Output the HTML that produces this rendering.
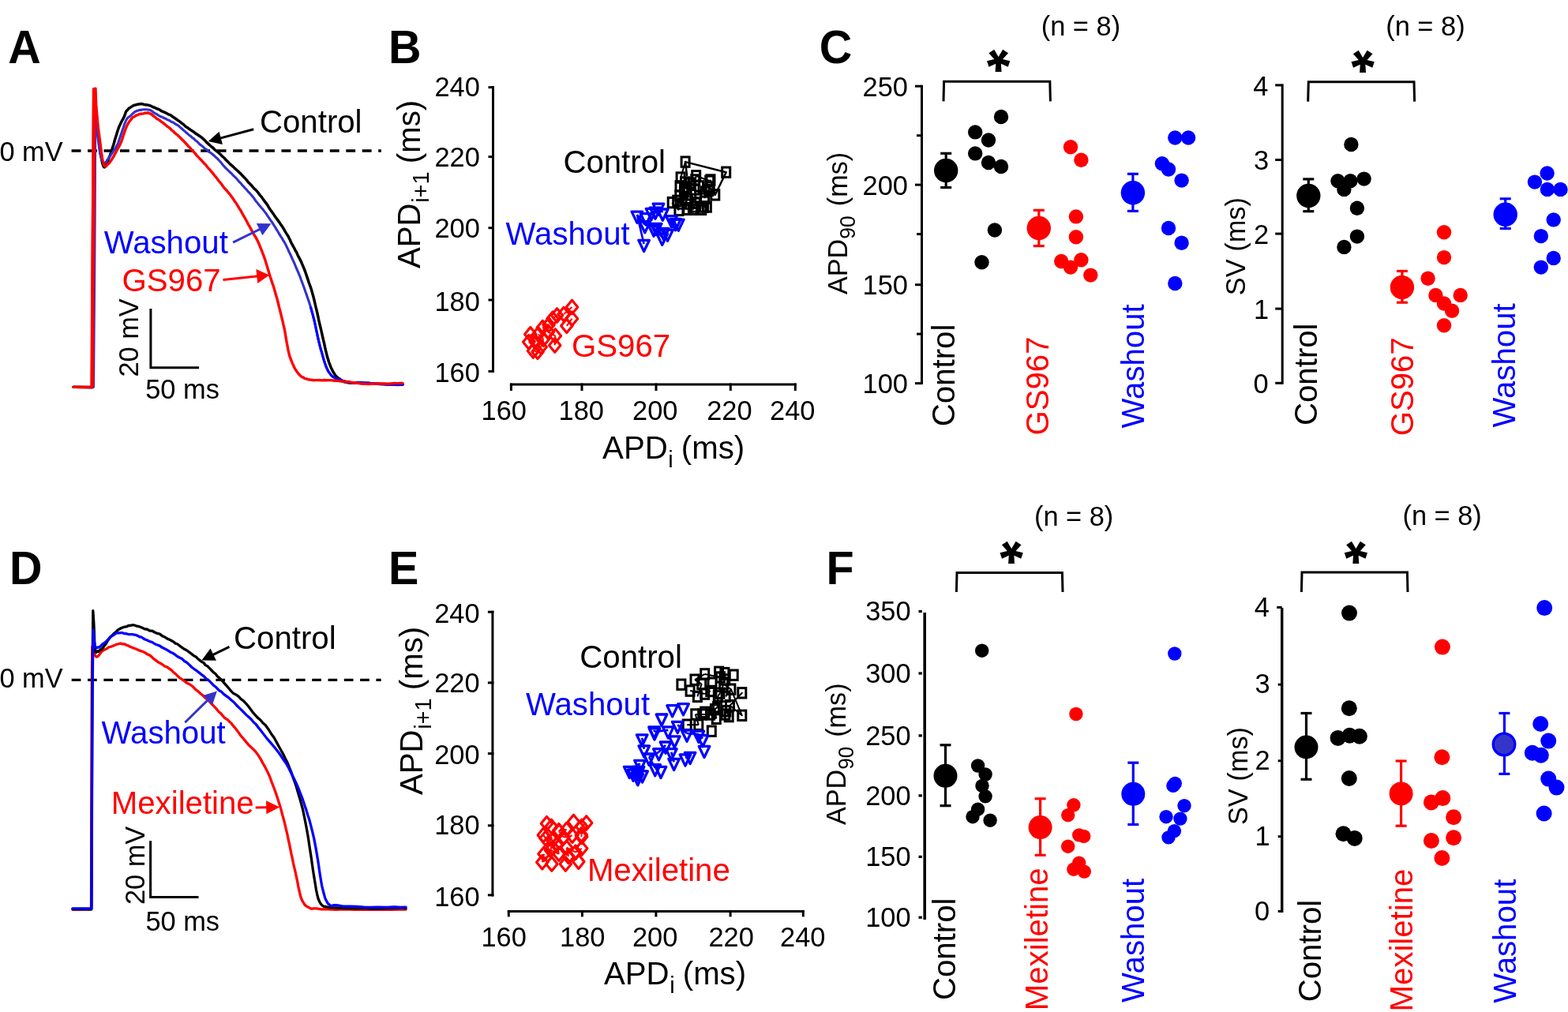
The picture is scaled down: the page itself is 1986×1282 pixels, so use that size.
<!DOCTYPE html>
<html><head><meta charset="utf-8"><title>Figure</title>
<style>
html,body{margin:0;padding:0;background:#fff;overflow:hidden;}
svg{display:block;}
text{font-family:"Liberation Sans", Arial, Helvetica, sans-serif;}
</style></head>
<body>
<svg width="1986" height="1282" viewBox="0 0 1986 1282">
<rect width="1986" height="1282" fill="#fff"/>
<text transform="translate(10.18 79.8) scale(1 1.03)" font-size="57.5" font-weight="bold">A</text>
<text transform="translate(491.88 80.2) scale(1 1.03)" font-size="57.5" font-weight="bold">B</text>
<text transform="translate(1037.7 80) scale(1 1.03)" font-size="57.5" font-weight="bold">C</text>
<text transform="translate(11.88 739.9) scale(1 1.03)" font-size="57.5" font-weight="bold">D</text>
<text transform="translate(491.88 740.2) scale(1 1.03)" font-size="57.5" font-weight="bold">E</text>
<text transform="translate(1046.57 739.7) scale(1 1.03)" font-size="57.5" font-weight="bold">F</text>
<g>
<text transform="translate(-0.58 203.8) scale(1 1.03)" font-size="34.4">0 mV</text>
<line x1="90.6" y1="191.05" x2="482.9" y2="191.05" stroke="#000" stroke-width="3.4" stroke-dasharray="11.9 8.55"/>
<polyline points="93,490.28 117,490.71 117.21,464.66 117.52,427.61 117.86,384.95 118.21,340.77 118.5,300.09 118.75,259.86 118.98,216.48 119.2,175.13 119.37,140.27 119.5,114.96 121,130.16 121.4,134.54 121.96,141.69 122.62,149.81 123.32,157.6 124,165.27 124.66,171.78 125.34,177.73 126.05,183.93 126.77,189.97 127.5,195.26 128.25,199.44 129.02,203.46 129.81,207.09 130.6,209.54 131.4,211.33 132.19,211.89 132.98,211.23 133.78,209.61 134.61,207.75 135.5,205.83 136.46,203.95 137.47,201.49 138.52,198.7 139.57,196.39 140.6,193.33 141.6,190.35 142.6,186.85 143.6,183.98 144.6,180.53 145.6,176.77 146.6,173.59 147.58,170.45 148.58,167.11 149.61,164.04 150.7,160.75 151.9,158.25 153.2,155.57 154.51,152.93 155.74,150.84 156.8,148.93 157.61,147 158.24,145.07 158.8,143.56 159.41,141.78 160.2,140.55 161.2,139.62 162.32,138.26 163.52,137.08 164.76,136.38 166,135.62 167.22,134.84 168.46,133.99 169.72,133.45 171.03,133.01 172.4,132.77 173.81,132.29 175.27,131.98 176.77,131.89 178.35,131.56 180,131.63 181.77,132.19 183.64,132.63 185.56,132.77 187.5,133.11 189.4,133.5 191.26,134.32 193.12,135.32 194.98,135.98 196.84,136.67 198.7,137.72 200.58,138.22 202.46,139.33 204.34,140.56 206.22,141.3 208.1,142.18 209.96,142.96 211.82,143.98 213.68,145.1 215.54,145.46 217.4,146.97 219.27,148.17 221.15,149.48 223.04,150.74 224.92,152.18 226.8,153.41 228.68,154.9 230.56,156.34 232.45,157.66 234.33,159.67 236.2,160.94 238.06,162.08 239.92,163.57 241.78,164.83 243.64,166.02 245.5,167.31 247.38,168.71 249.26,170.02 251.14,171.29 253.02,172.54 254.9,173.72 256.76,175.4 258.62,177.04 260.48,179 262.34,180.91 264.2,182.58 266.07,184.26 267.95,185.95 269.84,187.29 271.72,189.32 273.6,190.9 275.52,192.26 277.48,193.96 279.41,195.69 281.27,197.83 283,199.15 284.52,200.58 285.86,202.33 287.14,203.57 288.48,204.83 290,206.4 291.73,208.21 293.59,209.64 295.53,211.39 297.49,213.37 299.4,214.97 301.26,216.68 303.12,218.59 304.98,220.18 306.84,222.29 308.7,224.25 310.58,226.11 312.46,228.11 314.34,230.67 316.22,232.53 318.1,234.43 319.96,236.69 321.82,238.82 323.68,240.36 325.54,242.43 327.4,244.69 329.27,247.32 331.15,249.35 333.04,252.12 334.92,254.62 336.8,257.13 338.68,259.63 340.56,262.9 342.45,265.66 344.33,268.34 346.2,270.93 348.06,273.84 349.92,276.25 351.78,278.91 353.64,281.37 355.5,284.28 357.44,286.88 359.45,290.14 361.43,293.69 363.28,296.66 364.9,299.08 366.2,301.82 367.25,303.64 368.18,306.04 369.12,307.96 370.2,309.95 371.42,312.14 372.7,314.31 374.03,317.21 375.4,319.22 376.8,322.39 378.27,325.42 379.83,328.34 381.39,331.37 382.91,335.08 384.3,338.38 385.54,341.39 386.68,344.42 387.75,347.5 388.81,350.67 389.9,353.82 391.03,357.37 392.18,360.52 393.32,363.71 394.44,367.06 395.5,370.9 396.5,374.28 397.45,378.1 398.37,381.76 399.28,385.93 400.2,389.84 401.12,393.28 402.03,397.43 402.94,401.61 403.86,406.14 404.8,410.17 405.76,414.08 406.74,418.22 407.73,422.74 408.72,427.08 409.7,431.36 410.68,435.32 411.66,440.07 412.64,444.31 413.62,448.33 414.6,452.39 415.56,455.26 416.49,458.54 417.44,460.9 418.43,463.52 419.5,466.45 420.69,468.47 421.99,471.15 423.31,473.24 424.61,475.31 425.8,476.62 426.86,477.75 427.84,478.46 428.78,479.33 429.72,479.66 430.7,480.47 431.6,481.22 432.37,481.61 433.23,482.7 434.38,483.18 436,483.72 438.15,484.12 440.69,484.82 443.55,484.91 446.68,485.04 450,484.9 453.62,485.28 457.57,485.59 461.71,485.56 465.9,485.87 470,485.83 474,485.88 478,486.1 482,486.56 486,486.45 490,486.76 494.32,486.58 498.96,486.59 503.44,487.01 507.28,487.13 510,486.71" fill="none" stroke="#000" stroke-width="3.5" stroke-linejoin="round" stroke-linecap="round"/>
<polyline points="93,490.27 118.5,490.27 118.72,463.57 119.03,426.47 119.38,383.88 119.72,339.9 120,300.1 120.22,261.88 120.41,222.46 120.57,184.86 120.7,152.85 120.8,129.8 121,134.04 121.27,139.78 121.61,146.69 122.02,153.82 122.5,160.27 123.09,166.31 123.79,172.83 124.55,179.16 125.3,184.87 126,189.72 126.63,193.65 127.22,196.35 127.8,198.53 128.38,200.6 129,202.02 129.64,203.58 130.27,204.66 130.93,205.49 131.64,206.26 132.4,206.28 133.23,206.09 134.11,205.44 135.03,203.96 136,202.23 137,201.24 138.05,199.77 139.14,198.21 140.28,196.7 141.43,194.92 142.6,193.17 143.8,191.14 145.04,189.71 146.29,187.8 147.52,185.24 148.7,183.25 149.8,180.56 150.84,177.47 151.87,174.39 152.91,171.17 154,168.25 155.15,164.65 156.34,161.27 157.54,157.44 158.77,154.54 160,151.94 161.25,149.81 162.53,148.58 163.81,147.83 165.07,146.88 166.3,145.79 167.44,144.56 168.51,143.57 169.58,142.79 170.72,141.57 172,141.24 173.43,140.23 174.97,140.09 176.59,139.31 178.27,139.38 180,139.02 181.79,138.75 183.66,138.68 185.58,138.8 187.5,138.98 189.4,139.29 191.26,140.03 193.12,141.32 194.98,142.84 196.84,143.93 198.7,144.75 200.58,146.19 202.46,147.09 204.34,148.11 206.22,148.6 208.1,149.85 209.96,150.34 211.82,151.59 213.68,152.25 215.54,153.15 217.4,154.53 219.27,155.09 221.15,156.38 223.04,157.69 224.92,158.52 226.8,159.83 228.68,161.75 230.56,163.16 232.45,165.11 234.33,166.45 236.2,168.32 238.06,169.75 239.92,171.53 241.78,172.63 243.64,174.63 245.5,175.62 247.38,177.67 249.26,178.95 251.14,180.82 253.02,182.85 254.9,184.09 256.76,185.67 258.62,187.48 260.48,188.77 262.34,190.04 264.2,192.09 266.07,193.05 267.95,194.39 269.84,196 271.72,197.69 273.6,199.45 275.52,201 277.48,203.27 279.41,205.29 281.27,207.66 283,209.76 284.52,211.35 285.86,212.84 287.14,214.06 288.48,215.49 290,216.92 291.73,218.51 293.59,220.19 295.53,222.37 297.49,224.12 299.4,225.96 301.26,228.17 303.12,230.48 304.98,232.11 306.84,234.48 308.7,236.44 310.58,238.54 312.46,240.32 314.34,242.82 316.22,244.47 318.1,246.86 319.96,249.09 321.82,251.3 323.68,254.14 325.54,256.38 327.4,258.73 329.27,260.98 331.15,263.21 333.04,265.32 334.92,267.88 336.8,270.2 338.68,273.09 340.56,275.81 342.45,278.69 344.33,281.13 346.2,284.17 348.11,287.05 350.07,290.38 352,293.53 353.83,296.63 355.5,299.33 356.95,301.43 358.22,303.62 359.4,305.67 360.57,307.41 361.8,309.72 363.07,312.46 364.33,314.91 365.62,318.04 366.96,320.69 368.4,323.76 370.01,327.34 371.76,331.24 373.56,335.23 375.27,339.28 376.8,342.78 378.1,345.76 379.24,348.74 380.29,351.12 381.32,354.2 382.4,357.08 383.52,359.98 384.64,362.94 385.76,366.18 386.88,369.47 388,372.43 389.13,375.95 390.28,379.36 391.42,382.54 392.54,385.91 393.6,389.78 394.59,392.91 395.53,396.34 396.43,400 397.35,403.42 398.3,407.17 399.3,412.05 400.32,416.57 401.36,421.4 402.39,426.71 403.4,430.86 404.39,435.03 405.37,439.12 406.35,442.59 407.32,445.63 408.3,449.27 409.27,452.61 410.23,455.96 411.19,458.96 412.18,462.16 413.2,464.54 414.25,467.07 415.32,469.29 416.43,471.57 417.58,472.79 418.8,474.75 419.97,475.71 421.09,476.96 422.32,477.71 423.83,478.58 425.8,479.65 428.38,480.49 431.46,481.46 434.8,482.56 438.16,483.48 441.3,484.61 444.18,484.8 446.97,485.02 449.72,484.74 452.48,484.21 455.3,484.6 458.11,484.8 460.88,484.95 463.7,485.02 466.71,485.17 470,485.47 473.66,485.96 477.62,485.97 481.75,486.46 485.92,486.74 490,487.27 494.32,487.35 498.96,487.56 503.44,487.59 507.28,487.33 510,487.34" fill="none" stroke="#3232cd" stroke-width="3.1" stroke-linejoin="round" stroke-linecap="round"/>
<polyline points="393.6,389.49 394.23,391.7 395.12,395.2 396.17,398.67 397.26,403.11 398.3,407.22 399.3,411.49 400.32,416.65 401.36,421.41 402.39,426.56 403.4,430.84 404.39,434.9 405.37,438.87 406.35,442.68 407.32,445.7 408.3,449.13 409.27,452.74 410.23,456.24 411.19,459.19 412.18,462.05 413.2,465.09 414.25,466.93 415.32,469.58 416.43,471.18 417.58,472.83 418.8,474.37 419.97,475.78 421.09,477.1 422.32,477.58 423.83,478.65 425.8,479.58 428.38,480.48 431.46,481.72 434.8,482.52 438.16,483.46 441.3,484.22 444.18,484.82 446.97,484.7 449.72,484.51 452.48,484.55 455.3,484.47 458.11,484.51 460.88,484.99 463.7,485.14 466.71,485.1 470,485.54 473.66,485.8 477.62,486.34 481.75,486.59 485.92,486.63 490,487.29 494.32,486.94 498.96,487.25 503.44,487.54 507.28,487.24 510,487.49" fill="none" stroke="#0000ff" stroke-width="3.1" stroke-linejoin="round" stroke-linecap="round"/>
<polyline points="93,490.34 116.5,490.53 116.64,464.46 116.83,427.91 117.05,385.17 117.28,340.66 117.5,299.71 117.72,259.59 117.95,215.83 118.17,174.01 118.36,138.67 118.5,112.98 121,112.2 121.8,135.49 122.14,139.1 122.62,143.83 123.17,149.91 123.75,155.88 124.3,160.81 124.82,165.36 125.34,169.48 125.86,173.1 126.38,177.4 126.9,181.15 127.4,184.89 127.88,188.65 128.37,192.95 128.87,196.25 129.4,199.53 129.95,202.43 130.51,204.9 131.1,207.25 131.72,208.71 132.4,210.18 133.12,210.55 133.86,210.85 134.66,210.38 135.53,209.17 136.5,208.28 137.59,207.18 138.8,206.16 140.06,204.14 141.35,202.4 142.6,200.28 143.84,198.35 145.09,196.02 146.34,193.66 147.55,191.47 148.7,189.25 149.75,187.48 150.72,185.58 151.66,183.93 152.63,181.84 153.7,179.39 154.88,175.93 156.13,171.77 157.42,168.13 158.72,164.34 160,161.04 161.27,158.22 162.55,156.06 163.82,153.82 165.08,152.5 166.3,150.84 167.44,149.42 168.51,148.32 169.58,148.03 170.72,147.45 172,146.25 173.43,146.03 174.97,145.22 176.59,144.55 178.27,144.21 180,144.16 181.79,143.9 183.66,143.08 185.58,143.23 187.5,142.93 189.4,143.73 191.26,144.35 193.12,145.91 194.98,147.42 196.84,148.66 198.7,150.4 200.58,151.35 202.46,152.59 204.34,154.3 206.22,155.38 208.1,156.92 209.96,158.5 211.82,160.09 213.68,161.3 215.54,162.76 217.4,164.82 219.27,166.09 221.15,168.12 223.04,169.76 224.92,171.17 226.8,172.98 228.68,174.81 230.56,176.73 232.45,178.58 234.33,180.48 236.2,182.47 238.06,184.67 239.92,186.46 241.78,188.5 243.64,190.76 245.5,192.54 247.38,194.64 249.26,197.11 251.14,198.89 253.02,200.97 254.9,202.71 256.76,204.99 258.62,207.12 260.48,208.83 262.34,211.25 264.2,213.38 266.07,215.2 267.95,217.74 269.84,219.88 271.72,222.29 273.6,224.41 275.52,227.06 277.48,229.64 279.41,231.77 281.27,234.24 283,236.81 284.52,238.8 285.86,239.88 287.14,241.43 288.48,243.07 290,244.79 291.73,247.08 293.59,249.55 295.53,252.27 297.49,255.2 299.4,257.88 301.26,260.86 303.12,264.15 304.98,266.84 306.84,270.38 308.7,273.74 310.58,276.83 312.46,280.22 314.34,284.05 316.22,287.2 318.1,290.61 319.98,294.08 321.88,297.46 323.76,300.35 325.61,303.86 327.4,307.5 329.15,311.78 330.88,315.81 332.56,320.44 334.14,324.37 335.6,328.6 336.9,332.76 338.07,336.8 339.15,340.34 340.18,343.83 341.2,347.17 342.2,350.5 343.14,353.1 344.06,356.14 344.97,358.84 345.9,361.31 346.84,364.39 347.78,367.78 348.72,370.84 349.66,374.2 350.6,377.31 351.54,380.72 352.48,384.51 353.42,388.59 354.36,392.11 355.3,396.01 356.25,399.88 357.21,403.74 358.17,407.63 359.1,411.93 360,415.59 360.86,419.95 361.71,425.26 362.52,429.98 363.29,434.51 364,438.06 364.61,441.53 365.13,444.16 365.63,446.05 366.16,448.57 366.8,450.9 367.57,453.2 368.42,455.5 369.32,457.68 370.22,459.9 371.1,461.84 371.91,463.52 372.69,465.43 373.47,466.72 374.33,468.45 375.3,469.43 376.41,471.44 377.64,472.83 378.93,474.44 380.26,475.77 381.6,476.94 382.9,477.7 384.18,478.16 385.51,479.27 386.96,479.49 388.6,480.08 390.42,480.73 392.38,480.99 394.47,481.19 396.71,481.71 399.1,481.67 401.69,481.58 404.49,481.52 407.39,481.83 410.33,481.56 413.2,481.77 416,481.6 418.8,481.61 421.6,481.96 424.4,482.29 427.2,482.1 430.02,482.7 432.84,483.03 435.66,483.24 438.48,483.56 441.3,483.4 444.1,484.17 446.87,484.77 449.65,484.76 452.46,485.32 455.3,485.66 458.11,486.07 460.88,486.19 463.7,486.36 466.71,486.63 470,486.2 473.66,486.21 477.62,486.16 481.75,486.03 485.92,485.86 490,486.28 494.32,486.1 498.96,485.53 503.44,485.67 507.28,485.46 510,485.39" fill="none" stroke="#ff0000" stroke-width="3.4" stroke-linejoin="round" stroke-linecap="round"/>
<polyline points="116.6,490 117.9,300 119.4,111.7" fill="none" stroke="#ff0000" stroke-width="4.6"/>
<text transform="translate(328.99 167.8) scale(1 1.03)" font-size="40.2">Control</text>
<line x1="321.2" y1="163.7" x2="277.8" y2="175.34" stroke="#000" stroke-width="3"/>
<polygon points="263.8,179.1 277.56,166.71 281.91,182.94" fill="#000"/>
<text transform="translate(131.7 321.2) scale(1 1.03)" font-size="40.2" fill="#0000ff">Washout</text>
<line x1="295.1" y1="307.2" x2="330.4" y2="289.73" stroke="#3232cd" stroke-width="3"/>
<polygon points="343.4,283.3 332.34,298.15 324.89,283.09" fill="#3232cd"/>
<text transform="translate(154.49 368.8) scale(1 1.03)" font-size="40.2" fill="#ff0000">GS967</text>
<line x1="282.5" y1="354.5" x2="327.27" y2="349.85" stroke="#ff0000" stroke-width="3"/>
<polygon points="341.2,348.4 326.22,359.01 324.36,341.1" fill="#ff0000"/>
<polyline points="190.9,391 190.9,465.7 252.1,465.7" fill="none" stroke="#000" stroke-width="3"/>
<text transform="translate(175.1 477.62) rotate(-90) scale(1 1.03)" font-size="34.4">20 mV</text>
<text transform="translate(184.22 504.6) scale(1 1.03)" font-size="34.4">50 ms</text>
</g>
<g>
<text transform="translate(-0.58 870.8) scale(1 1.03)" font-size="34.4">0 mV</text>
<line x1="90.7" y1="861.4" x2="482.7" y2="861.4" stroke="#000" stroke-width="3.4" stroke-dasharray="11.7 8.6"/>
<polyline points="92,1152.24 115.5,1152.1 115.6,1115.31 115.73,1061.09 115.89,1000.32 116.06,943.45 116.2,900.42 116.34,871.87 116.48,851.74 116.61,837.25 116.72,827.56 116.8,819.08 117.45,821 118.34,823.98 119.43,827.38 120.66,830.83 122,832.13 123.49,831.8 125.16,830.29 126.94,827.56 128.77,825.5 130.6,824.13 132.38,823.08 134.16,822.21 135.99,821.35 137.92,819.73 140,819.41 142.36,818.55 144.96,817.42 147.63,816.2 150.17,815.79 152.4,814.99 154.18,815.74 155.63,815.83 156.96,815.87 158.41,816.15 160.2,817.41 162.38,817.9 164.79,819.23 167.37,820.35 170.03,821.22 172.7,822.31 175.43,823.64 178.26,824.6 181.14,825.51 183.97,826.95 186.7,828.91 189.25,829.82 191.66,831.68 194.05,834.21 196.53,835.85 199.2,838.03 202.17,839.83 205.37,841.53 208.63,844.03 211.83,845.12 214.8,847.31 217.45,849.19 219.87,851.78 222.23,853.64 224.65,855.95 227.3,858.55 230.3,860.32 233.54,862.79 236.85,865.35 240.03,866.72 242.9,868.76 245.31,870.83 247.37,873.11 249.33,874.7 251.39,876.19 253.8,878.43 256.67,880.78 259.85,883.83 263.16,886.32 266.4,889.92 269.4,893 272.12,895.93 274.7,898.66 277.16,901.79 279.55,903.61 281.9,906.39 284.11,909.07 286.15,910.44 288.18,911.59 290.34,913.94 292.8,916.12 295.57,919.68 298.57,923.12 301.73,927.33 305.03,932 308.4,935.94 311.96,940.16 315.73,944.62 319.56,947.92 323.31,951.76 326.8,956.34 330.03,961.37 333.08,967.14 336.01,972.17 338.84,977.86 341.6,983.8 344.33,991.37 347,998.04 349.57,1005.29 351.98,1012.53 354.2,1019.56 356.18,1026.29 357.96,1033.22 359.59,1038.97 361.12,1045.03 362.6,1051.59 363.99,1057.37 365.27,1064.01 366.47,1068.96 367.67,1075.18 368.9,1081.27 370.18,1086.84 371.46,1093.38 372.74,1098.82 374.02,1104.47 375.3,1110.41 376.53,1115.91 377.73,1122.3 378.93,1127.93 380.21,1133.86 381.6,1138.23 383.01,1141.37 384.41,1143.63 385.93,1145.99 387.75,1147.7 390,1149.11 392.24,1150.18 394.37,1151.36 397.06,1150.87 400.98,1150.88 406.8,1151.93 415.1,1151.77 425.42,1152.31 436.92,1151.78 448.73,1152.33 460,1152.15 471.61,1152.4 484.13,1152.47 496.25,1152.33 506.64,1152.02 514,1152.21" fill="none" stroke="#ff0000" stroke-width="3.3" stroke-linejoin="round" stroke-linecap="round"/>
<polyline points="92,1151.62 115.8,1151.74 115.94,1115.58 116.13,1063.43 116.35,1003.88 116.58,946.71 116.8,899.53 117.02,864.72 117.25,834.96 117.47,809.45 117.66,789.53 117.8,773.61 117.94,776.08 118.14,778.72 118.38,782.53 118.64,786.66 118.9,790.71 119.15,796.71 119.39,803.8 119.67,811.69 119.99,818 120.4,822.06 120.85,825.25 121.33,825.71 121.9,826.35 122.6,825.51 123.5,825 124.63,825.45 125.94,824 127.4,822.88 128.97,822.21 130.6,820.37 132.33,817.57 134.2,815.52 136.14,812.16 138.09,809.45 140,806.5 141.87,805.15 143.73,802.99 145.58,801.55 147.44,799.94 149.3,798 151.13,796.95 152.94,795.89 154.76,795.16 156.63,794.47 158.6,794.1 160.64,793.73 162.73,792.43 164.9,792.52 167.18,791.82 169.6,791.81 172.18,792.8 174.91,793.32 177.74,794.25 180.65,795.58 183.6,796.9 186.62,797.24 189.72,799.13 192.88,799.2 196.05,801.05 199.2,802.44 202.37,803.16 205.59,805.67 208.78,807.09 211.88,809.11 214.8,810.21 217.45,811.69 219.87,813.11 222.23,815.15 224.65,815.77 227.3,817.96 230.27,820.08 233.47,822.29 236.73,824.01 239.93,826.31 242.9,828.62 245.6,830.83 248.13,832 250.56,834.45 252.96,836.35 255.4,838.36 257.88,839.6 260.36,842.62 262.84,843.94 265.32,846.43 267.8,849.01 270.29,851.69 272.79,853.55 275.3,856.64 277.8,858.82 280.3,861.21 282.75,863.94 285.15,866.64 287.58,869.41 290.1,872.32 292.8,875.59 295.72,878.39 298.82,879.87 302.01,882.07 305.23,885.51 308.4,887.93 311.52,891.18 314.64,894.77 317.77,899.07 320.89,903.22 324,906.56 327.05,909.74 330.04,912.23 333.06,916 336.18,918.49 339.5,923.19 343.16,928.92 347.12,934.45 351.13,941.76 354.97,948.74 358.4,954.83 361.36,960.95 363.99,966.05 366.41,972.13 368.71,977.71 371,984.54 373.32,990.53 375.59,997.53 377.77,1005.02 379.79,1011.71 381.6,1018.38 383.15,1023.99 384.48,1029.89 385.67,1035.89 386.78,1041.42 387.9,1047.19 389.01,1053.41 390.05,1059.3 391.07,1065.77 392.07,1072.78 393.1,1079.36 394.14,1086.05 395.16,1093.32 396.2,1100.62 397.27,1107.6 398.4,1114.47 399.49,1121.3 400.54,1127.55 401.67,1132.78 403.01,1138.24 404.7,1142.27 406.35,1145.05 407.88,1146.86 409.86,1148.11 412.84,1148.51 417.4,1149.6 423.82,1149.82 431.74,1150.33 440.7,1150.71 450.27,1150.64 460,1150.29 470.93,1151.02 483.37,1150.73 495.74,1150.63 506.47,1150.03 514,1150.55" fill="none" stroke="#000" stroke-width="3.3" stroke-linejoin="round" stroke-linecap="round"/>
<polyline points="92,1150.79 116,1150.82 116.13,1114.05 116.32,1061 116.54,1001.08 116.78,944.81 117,899.97 117.23,868.63 117.49,843.26 117.73,824.22 117.95,808.76 118.1,797.7 118.36,800.82 118.7,805.21 119.14,810.55 119.7,815.42 120.4,818.19 121.26,820.13 122.26,820.93 123.38,820.23 124.6,820.22 125.9,819.49 127.21,818.91 128.56,817.35 130.02,815.79 131.71,814.97 133.7,813.3 136.13,810.87 138.93,808 141.91,805.54 144.9,803.74 147.7,801.89 150.3,801.95 152.81,801.63 155.27,801.66 157.72,802.66 160.2,802.76 162.73,803.54 165.28,803.71 167.82,803.56 170.3,804.07 172.7,804.7 174.91,805.62 176.95,806.79 178.98,806.97 181.14,808.52 183.6,810 186.42,810.98 189.5,812.6 192.73,813.5 196,815.75 199.2,816.93 202.32,818.12 205.44,820.35 208.56,821.74 211.68,823.4 214.8,825.48 217.92,826.92 221.04,828.76 224.16,831.24 227.28,833.01 230.4,834.41 233.52,837.48 236.64,839.2 239.76,842.09 242.88,845.26 246,847.52 249.12,849.67 252.24,852.16 255.36,854.61 258.48,856.84 261.6,860.3 264.72,862.09 267.84,865.32 270.96,868.54 274.08,871.05 277.2,874.38 280.32,876.2 283.44,879.35 286.56,881.65 289.68,883.9 292.8,886.79 295.92,889.27 299.04,892.75 302.16,895.91 305.28,898.85 308.4,901.97 311.62,905.38 314.95,908.33 318.22,911.21 321.29,914.96 324,917.37 325.99,919.89 327.37,921.97 328.68,923.18 330.44,925.45 333.2,929.12 337.35,934.63 342.53,940.55 348.15,947.21 353.64,954.33 358.4,961.43 362.38,967.03 365.96,973.44 369.25,980.18 372.33,986.26 375.3,992.37 378.16,999.25 380.85,1006.11 383.37,1012.66 385.72,1019.67 387.9,1026.11 389.88,1032.71 391.66,1038.02 393.29,1044.06 394.82,1050.17 396.3,1056.22 397.71,1062.15 399.02,1069.09 400.25,1075.65 401.44,1082.6 402.6,1089.49 403.69,1096.72 404.7,1103.98 405.68,1110.36 406.73,1116.69 407.9,1123.05 409.15,1127.97 410.42,1132.83 411.8,1137.93 413.36,1140.94 415.2,1144.42 416.92,1145.86 418.48,1147.24 420.44,1147.38 423.39,1146.62 427.9,1146.99 434.41,1148.2 442.53,1148.25 451.61,1148.4 460.99,1149.04 470,1149.31 479.38,1149.18 489.58,1149.28 499.48,1148.99 507.99,1149.31 514,1149.14" fill="none" stroke="#0000ff" stroke-width="3.3" stroke-linejoin="round" stroke-linecap="round"/>
<text transform="translate(296.09 822) scale(1 1.03)" font-size="40.2">Control</text>
<line x1="290.5" y1="819.3" x2="268.44" y2="830.05" stroke="#000" stroke-width="3"/>
<polygon points="255.4,836.4 266.55,821.62 273.91,836.73" fill="#000"/>
<text transform="translate(128.6 941.6) scale(1 1.03)" font-size="40.2" fill="#0000ff">Washout</text>
<line x1="234.3" y1="915.2" x2="264.55" y2="885.55" stroke="#3333cc" stroke-width="3"/>
<polygon points="274.9,875.4 269,892.95 257.24,880.95" fill="#3333cc"/>
<text transform="translate(140.78 1030.8) scale(1 1.03)" font-size="40.2" fill="#ff0000">Mexiletine</text>
<line x1="323.7" y1="1023" x2="339.2" y2="1022.75" stroke="#ff0000" stroke-width="3"/>
<polygon points="354.2,1022.5 337.34,1031.28 337.06,1014.28" fill="#ff0000"/>
<polyline points="190.6,1065.3 190.6,1136.5 251.5,1136.5" fill="none" stroke="#000" stroke-width="3"/>
<text transform="translate(182.5 1146.12) rotate(-90) scale(1 1.03)" font-size="34.4">20 mV</text>
<text transform="translate(184.42 1178.9) scale(1 1.03)" font-size="34.4">50 ms</text>
</g>
<g>
<line x1="624.5" y1="109.1" x2="624.5" y2="471.9" stroke="#000" stroke-width="3"/>
<line x1="618.5" y1="110.6" x2="626" y2="110.6" stroke="#000" stroke-width="3"/>
<line x1="618.5" y1="198.6" x2="626" y2="198.6" stroke="#000" stroke-width="3"/>
<line x1="618.5" y1="288.7" x2="626" y2="288.7" stroke="#000" stroke-width="3"/>
<line x1="618.5" y1="380" x2="626" y2="380" stroke="#000" stroke-width="3"/>
<line x1="618.5" y1="470.4" x2="626" y2="470.4" stroke="#000" stroke-width="3"/>
<text transform="translate(550.43 122) scale(1 1.03)" font-size="34.4">240</text>
<text transform="translate(550.43 211.4) scale(1 1.03)" font-size="34.4">220</text>
<text transform="translate(550.43 300.6) scale(1 1.03)" font-size="34.4">200</text>
<text transform="translate(550.43 394.2) scale(1 1.03)" font-size="34.4">180</text>
<text transform="translate(550.43 483.6) scale(1 1.03)" font-size="34.4">160</text>
<line x1="645.9" y1="487.1" x2="1008.8" y2="487.1" stroke="#000" stroke-width="3"/>
<line x1="647.4" y1="485.6" x2="647.4" y2="495.1" stroke="#000" stroke-width="3"/>
<line x1="737" y1="485.6" x2="737" y2="495.1" stroke="#000" stroke-width="3"/>
<line x1="831" y1="485.6" x2="831" y2="495.1" stroke="#000" stroke-width="3"/>
<line x1="925.3" y1="485.6" x2="925.3" y2="495.1" stroke="#000" stroke-width="3"/>
<line x1="1007.3" y1="485.6" x2="1007.3" y2="495.1" stroke="#000" stroke-width="3"/>
<text transform="translate(609.59 532) scale(1 1.03)" font-size="34.4">160</text>
<text transform="translate(707.59 532) scale(1 1.03)" font-size="34.4">180</text>
<text transform="translate(801.1 532) scale(1 1.03)" font-size="34.4">200</text>
<text transform="translate(895.2 532) scale(1 1.03)" font-size="34.4">220</text>
<text transform="translate(975.1 532) scale(1 1.03)" font-size="34.4">240</text>
<text transform="translate(763.1 580.8) scale(1 1.03)" font-size="40.2">APD<tspan font-size="29" dy="11.3" dx="0.5">i</tspan><tspan dy="-11.3" dx="-1"> (ms)</tspan></text>
<text transform="translate(531.5 340) rotate(-90) scale(1 1.03)" font-size="40.2">APD<tspan font-size="29" dy="11.3" dx="0.5">i+1</tspan><tspan dy="-11.3" dx="-1"> (ms)</tspan></text>
<polyline points="868.1,205.1 919.7,218.2 905.8,246.8" fill="none" stroke="#000" stroke-width="2.5" stroke-linejoin="round" stroke-linecap="round"/>
<polyline points="868.1,205.1 870,222" fill="none" stroke="#000" stroke-width="2.5" stroke-linejoin="round" stroke-linecap="round"/>
<line x1="892.6" y1="251.2" x2="893" y2="243" stroke="#000" stroke-width="2"/>
<line x1="893" y1="243" x2="897.87" y2="241.22" stroke="#000" stroke-width="2"/>
<line x1="897.87" y1="241.22" x2="899.2" y2="237" stroke="#000" stroke-width="2"/>
<line x1="899.2" y1="237" x2="905.8" y2="246.8" stroke="#000" stroke-width="2"/>
<line x1="905.8" y1="246.8" x2="900" y2="228" stroke="#000" stroke-width="2"/>
<line x1="900" y1="228" x2="898.7" y2="229.3" stroke="#000" stroke-width="2"/>
<line x1="898.7" y1="229.3" x2="881.7" y2="222.8" stroke="#000" stroke-width="2"/>
<line x1="881.7" y1="222.8" x2="880.74" y2="228" stroke="#000" stroke-width="2"/>
<line x1="880.74" y1="228" x2="874" y2="232" stroke="#000" stroke-width="2"/>
<line x1="874" y1="232" x2="867.5" y2="231" stroke="#000" stroke-width="2"/>
<line x1="867.5" y1="231" x2="869.72" y2="236.97" stroke="#000" stroke-width="2"/>
<line x1="869.72" y1="236.97" x2="861" y2="235.9" stroke="#000" stroke-width="2"/>
<line x1="861" y1="235.9" x2="866.57" y2="239.38" stroke="#000" stroke-width="2"/>
<line x1="866.57" y1="239.38" x2="866.4" y2="242.4" stroke="#000" stroke-width="2"/>
<line x1="866.4" y1="242.4" x2="869.7" y2="251.2" stroke="#000" stroke-width="2"/>
<line x1="869.7" y1="251.2" x2="860.82" y2="247.87" stroke="#000" stroke-width="2"/>
<line x1="860.82" y1="247.87" x2="864" y2="258" stroke="#000" stroke-width="2"/>
<line x1="864" y1="258" x2="857.7" y2="254.4" stroke="#000" stroke-width="2"/>
<line x1="857.7" y1="254.4" x2="870.8" y2="265.3" stroke="#000" stroke-width="2"/>
<line x1="870.8" y1="265.3" x2="879.74" y2="262" stroke="#000" stroke-width="2"/>
<line x1="879.74" y1="262" x2="877.4" y2="265.3" stroke="#000" stroke-width="2"/>
<line x1="877.4" y1="265.3" x2="881.38" y2="257.14" stroke="#000" stroke-width="2"/>
<line x1="881.38" y1="257.14" x2="891.57" y2="262" stroke="#000" stroke-width="2"/>
<line x1="891.57" y1="262" x2="895.38" y2="262" stroke="#000" stroke-width="2"/>
<line x1="895.38" y1="262" x2="882" y2="257" stroke="#000" stroke-width="2"/>
<line x1="882" y1="257" x2="875.7" y2="246.8" stroke="#000" stroke-width="2"/>
<line x1="862.1" y1="225" x2="868.1" y2="205.1" stroke="#000" stroke-width="2"/>
<line x1="859.9" y1="266.4" x2="851.2" y2="256.6" stroke="#000" stroke-width="2"/>
<line x1="850.5" y1="277.7" x2="855.5" y2="281.5" stroke="#0000ff" stroke-width="2.7"/>
<line x1="845.5" y1="295.2" x2="840.5" y2="293.3" stroke="#0000ff" stroke-width="2.7"/>
<line x1="840.5" y1="293.3" x2="831.2" y2="287.4" stroke="#0000ff" stroke-width="2.7"/>
<line x1="831.2" y1="287.4" x2="816.8" y2="284.6" stroke="#0000ff" stroke-width="2.7"/>
<line x1="816.8" y1="284.6" x2="806.9" y2="272.1" stroke="#0000ff" stroke-width="2.7"/>
<line x1="825" y1="268.4" x2="830" y2="267.1" stroke="#0000ff" stroke-width="2.7"/>
<line x1="830" y1="267.1" x2="834" y2="262.1" stroke="#0000ff" stroke-width="2.7"/>
<line x1="834" y1="262.1" x2="839.3" y2="269" stroke="#0000ff" stroke-width="2.7"/>
<line x1="838.7" y1="300.2" x2="828" y2="289" stroke="#0000ff" stroke-width="2.7"/>
<line x1="671.8" y1="423.4" x2="678.2" y2="433.2" stroke="#ff0000" stroke-width="2"/>
<line x1="678.2" y1="433.2" x2="669.7" y2="433.2" stroke="#ff0000" stroke-width="2"/>
<line x1="681.7" y1="423.4" x2="688.3" y2="429.7" stroke="#ff0000" stroke-width="2"/>
<line x1="688.3" y1="429.7" x2="685.2" y2="439.5" stroke="#ff0000" stroke-width="2"/>
<line x1="685.2" y1="439.5" x2="681" y2="445.8" stroke="#ff0000" stroke-width="2"/>
<line x1="681" y1="445.8" x2="675.4" y2="444.4" stroke="#ff0000" stroke-width="2"/>
<line x1="702.7" y1="437.4" x2="703.4" y2="425.5" stroke="#ff0000" stroke-width="2"/>
<line x1="703.4" y1="425.5" x2="694.3" y2="420.5" stroke="#ff0000" stroke-width="2"/>
<line x1="694.3" y1="420.5" x2="687.3" y2="415" stroke="#ff0000" stroke-width="2"/>
<line x1="687.3" y1="415" x2="695" y2="411.4" stroke="#ff0000" stroke-width="2"/>
<line x1="705.5" y1="399.5" x2="700" y2="403.7" stroke="#ff0000" stroke-width="2"/>
<line x1="714" y1="398" x2="724.5" y2="389" stroke="#ff0000" stroke-width="2"/>
<line x1="724.5" y1="403.7" x2="717.8" y2="412.8" stroke="#ff0000" stroke-width="2"/>
<line x1="806.9" y1="272" x2="815.6" y2="309" stroke="#0000ff" stroke-width="2.6"/>
<rect x="863.1" y="198.9" width="10" height="12.4" fill="none" stroke="#000" stroke-width="3"/>
<rect x="914.7" y="212" width="10" height="12.4" fill="none" stroke="#000" stroke-width="3"/>
<rect x="900.8" y="240.6" width="10" height="12.4" fill="none" stroke="#000" stroke-width="3"/>
<rect x="876.7" y="216.6" width="10" height="12.4" fill="none" stroke="#000" stroke-width="3"/>
<rect x="857.1" y="218.8" width="10" height="12.4" fill="none" stroke="#000" stroke-width="3"/>
<rect x="862.5" y="224.8" width="10" height="12.4" fill="none" stroke="#000" stroke-width="3"/>
<rect x="893.7" y="223.1" width="10" height="12.4" fill="none" stroke="#000" stroke-width="3"/>
<rect x="880.5" y="229.7" width="10" height="12.4" fill="none" stroke="#000" stroke-width="3"/>
<rect x="894.2" y="230.8" width="10" height="12.4" fill="none" stroke="#000" stroke-width="3"/>
<rect x="870.7" y="240.6" width="10" height="12.4" fill="none" stroke="#000" stroke-width="3"/>
<rect x="887.6" y="245" width="10" height="12.4" fill="none" stroke="#000" stroke-width="3"/>
<rect x="852.7" y="248.2" width="10" height="12.4" fill="none" stroke="#000" stroke-width="3"/>
<rect x="846.2" y="250.4" width="10" height="12.4" fill="none" stroke="#000" stroke-width="3"/>
<rect x="865.8" y="259.1" width="10" height="12.4" fill="none" stroke="#000" stroke-width="3"/>
<rect x="883.8" y="259.1" width="10" height="12.4" fill="none" stroke="#000" stroke-width="3"/>
<rect x="872.4" y="259.1" width="10" height="12.4" fill="none" stroke="#000" stroke-width="3"/>
<rect x="854.9" y="260.2" width="10" height="12.4" fill="none" stroke="#000" stroke-width="3"/>
<rect x="856" y="229.7" width="10" height="12.4" fill="none" stroke="#000" stroke-width="3"/>
<rect x="861.4" y="236.2" width="10" height="12.4" fill="none" stroke="#000" stroke-width="3"/>
<rect x="864.7" y="245" width="10" height="12.4" fill="none" stroke="#000" stroke-width="3"/>
<rect x="875" y="233.8" width="10" height="12.4" fill="none" stroke="#000" stroke-width="3"/>
<rect x="869" y="225.8" width="10" height="12.4" fill="none" stroke="#000" stroke-width="3"/>
<rect x="888" y="236.8" width="10" height="12.4" fill="none" stroke="#000" stroke-width="3"/>
<rect x="859" y="251.8" width="10" height="12.4" fill="none" stroke="#000" stroke-width="3"/>
<rect x="877" y="250.8" width="10" height="12.4" fill="none" stroke="#000" stroke-width="3"/>
<rect x="890.38" y="255.8" width="10" height="12.4" fill="none" stroke="#000" stroke-width="3"/>
<rect x="876.38" y="250.94" width="10" height="12.4" fill="none" stroke="#000" stroke-width="3"/>
<rect x="855.82" y="241.67" width="10" height="12.4" fill="none" stroke="#000" stroke-width="3"/>
<rect x="874.74" y="255.8" width="10" height="12.4" fill="none" stroke="#000" stroke-width="3"/>
<rect x="875.74" y="221.8" width="10" height="12.4" fill="none" stroke="#000" stroke-width="3"/>
<rect x="861.57" y="233.18" width="10" height="12.4" fill="none" stroke="#000" stroke-width="3"/>
<rect x="895" y="221.8" width="10" height="12.4" fill="none" stroke="#000" stroke-width="3"/>
<rect x="886.57" y="255.8" width="10" height="12.4" fill="none" stroke="#000" stroke-width="3"/>
<rect x="864.72" y="230.77" width="10" height="12.4" fill="none" stroke="#000" stroke-width="3"/>
<rect x="892.87" y="235.02" width="10" height="12.4" fill="none" stroke="#000" stroke-width="3"/>
<polygon points="800.1,268.1 813.7,268.1 806.9,282.3" fill="none" stroke="#0000ff" stroke-width="3.3" stroke-linejoin="round"/>
<polygon points="808.8,304.3 822.4,304.3 815.6,318.5" fill="none" stroke="#0000ff" stroke-width="3.3" stroke-linejoin="round"/>
<polygon points="827.2,258.1 840.8,258.1 834,272.3" fill="none" stroke="#0000ff" stroke-width="3.3" stroke-linejoin="round"/>
<polygon points="832.5,265 846.1,265 839.3,279.2" fill="none" stroke="#0000ff" stroke-width="3.3" stroke-linejoin="round"/>
<polygon points="843.7,273.7 857.3,273.7 850.5,287.9" fill="none" stroke="#0000ff" stroke-width="3.3" stroke-linejoin="round"/>
<polygon points="852.5,278.1 866.1,278.1 859.3,292.3" fill="none" stroke="#0000ff" stroke-width="3.3" stroke-linejoin="round"/>
<polygon points="824.4,283.4 838,283.4 831.2,297.6" fill="none" stroke="#0000ff" stroke-width="3.3" stroke-linejoin="round"/>
<polygon points="833.7,289.3 847.3,289.3 840.5,303.5" fill="none" stroke="#0000ff" stroke-width="3.3" stroke-linejoin="round"/>
<polygon points="831.9,296.2 845.5,296.2 838.7,310.4" fill="none" stroke="#0000ff" stroke-width="3.3" stroke-linejoin="round"/>
<polygon points="838.7,291.2 852.3,291.2 845.5,305.4" fill="none" stroke="#0000ff" stroke-width="3.3" stroke-linejoin="round"/>
<polygon points="818.2,264.4 831.8,264.4 825,278.6" fill="none" stroke="#0000ff" stroke-width="3.3" stroke-linejoin="round"/>
<polygon points="811.3,270.6 824.9,270.6 818.1,284.8" fill="none" stroke="#0000ff" stroke-width="3.3" stroke-linejoin="round"/>
<polygon points="823.2,263.1 836.8,263.1 830,277.3" fill="none" stroke="#0000ff" stroke-width="3.3" stroke-linejoin="round"/>
<polygon points="810,280.6 823.6,280.6 816.8,294.8" fill="none" stroke="#0000ff" stroke-width="3.3" stroke-linejoin="round"/>
<polygon points="821.2,285 834.8,285 828,299.2" fill="none" stroke="#0000ff" stroke-width="3.3" stroke-linejoin="round"/>
<polygon points="848.7,277.5 862.3,277.5 855.5,291.7" fill="none" stroke="#0000ff" stroke-width="3.3" stroke-linejoin="round"/>
<polygon points="724.5,380.2 731.7,389 724.5,397.8 717.3,389" fill="none" stroke="#ff0000" stroke-width="3.2" stroke-linejoin="round"/>
<polygon points="714,389.2 721.2,398 714,406.8 706.8,398" fill="none" stroke="#ff0000" stroke-width="3.2" stroke-linejoin="round"/>
<polygon points="724.5,394.9 731.7,403.7 724.5,412.5 717.3,403.7" fill="none" stroke="#ff0000" stroke-width="3.2" stroke-linejoin="round"/>
<polygon points="717.8,404 725,412.8 717.8,421.6 710.6,412.8" fill="none" stroke="#ff0000" stroke-width="3.2" stroke-linejoin="round"/>
<polygon points="705.5,390.7 712.7,399.5 705.5,408.3 698.3,399.5" fill="none" stroke="#ff0000" stroke-width="3.2" stroke-linejoin="round"/>
<polygon points="695,402.6 702.2,411.4 695,420.2 687.8,411.4" fill="none" stroke="#ff0000" stroke-width="3.2" stroke-linejoin="round"/>
<polygon points="703.4,416.7 710.6,425.5 703.4,434.3 696.2,425.5" fill="none" stroke="#ff0000" stroke-width="3.2" stroke-linejoin="round"/>
<polygon points="702.7,428.6 709.9,437.4 702.7,446.2 695.5,437.4" fill="none" stroke="#ff0000" stroke-width="3.2" stroke-linejoin="round"/>
<polygon points="688.3,420.9 695.5,429.7 688.3,438.5 681.1,429.7" fill="none" stroke="#ff0000" stroke-width="3.2" stroke-linejoin="round"/>
<polygon points="671.8,414.6 679,423.4 671.8,432.2 664.6,423.4" fill="none" stroke="#ff0000" stroke-width="3.2" stroke-linejoin="round"/>
<polygon points="669.7,424.4 676.9,433.2 669.7,442 662.5,433.2" fill="none" stroke="#ff0000" stroke-width="3.2" stroke-linejoin="round"/>
<polygon points="675.4,435.6 682.6,444.4 675.4,453.2 668.2,444.4" fill="none" stroke="#ff0000" stroke-width="3.2" stroke-linejoin="round"/>
<polygon points="681,437 688.2,445.8 681,454.6 673.8,445.8" fill="none" stroke="#ff0000" stroke-width="3.2" stroke-linejoin="round"/>
<polygon points="687.3,406.2 694.5,415 687.3,423.8 680.1,415" fill="none" stroke="#ff0000" stroke-width="3.2" stroke-linejoin="round"/>
<polygon points="681.7,414.6 688.9,423.4 681.7,432.2 674.5,423.4" fill="none" stroke="#ff0000" stroke-width="3.2" stroke-linejoin="round"/>
<polygon points="678.2,424.4 685.4,433.2 678.2,442 671,433.2" fill="none" stroke="#ff0000" stroke-width="3.2" stroke-linejoin="round"/>
<polygon points="685.2,430.7 692.4,439.5 685.2,448.3 678,439.5" fill="none" stroke="#ff0000" stroke-width="3.2" stroke-linejoin="round"/>
<polygon points="694.3,411.7 701.5,420.5 694.3,429.3 687.1,420.5" fill="none" stroke="#ff0000" stroke-width="3.2" stroke-linejoin="round"/>
<polygon points="700,394.9 707.2,403.7 700,412.5 692.8,403.7" fill="none" stroke="#ff0000" stroke-width="3.2" stroke-linejoin="round"/>
<text transform="translate(713.39 218.5) scale(1 1.03)" font-size="40.2">Control</text>
<text transform="translate(640.6 310) scale(1 1.03)" font-size="40.2" fill="#0000ff">Washout</text>
<text transform="translate(723.99 451.8) scale(1 1.03)" font-size="40.2" fill="#ff0000">GS967</text>
</g>
<g>
<line x1="623.9" y1="773.7" x2="623.9" y2="1135.4" stroke="#000" stroke-width="3"/>
<line x1="617.9" y1="775.2" x2="625.4" y2="775.2" stroke="#000" stroke-width="3"/>
<line x1="617.9" y1="864.9" x2="625.4" y2="864.9" stroke="#000" stroke-width="3"/>
<line x1="617.9" y1="954.6" x2="625.4" y2="954.6" stroke="#000" stroke-width="3"/>
<line x1="617.9" y1="1045.8" x2="625.4" y2="1045.8" stroke="#000" stroke-width="3"/>
<line x1="617.9" y1="1133.9" x2="625.4" y2="1133.9" stroke="#000" stroke-width="3"/>
<text transform="translate(550.13 788.9) scale(1 1.03)" font-size="34.4">240</text>
<text transform="translate(550.13 877) scale(1 1.03)" font-size="34.4">220</text>
<text transform="translate(550.13 967.6) scale(1 1.03)" font-size="34.4">200</text>
<text transform="translate(550.13 1057.3) scale(1 1.03)" font-size="34.4">180</text>
<text transform="translate(550.13 1147.6) scale(1 1.03)" font-size="34.4">160</text>
<line x1="642.8" y1="1154.4" x2="1018.8" y2="1154.4" stroke="#000" stroke-width="3"/>
<line x1="644.3" y1="1152.9" x2="644.3" y2="1161.4" stroke="#000" stroke-width="3"/>
<line x1="737.4" y1="1152.9" x2="737.4" y2="1161.4" stroke="#000" stroke-width="3"/>
<line x1="830.9" y1="1152.9" x2="830.9" y2="1161.4" stroke="#000" stroke-width="3"/>
<line x1="925.1" y1="1152.9" x2="925.1" y2="1161.4" stroke="#000" stroke-width="3"/>
<line x1="1017.3" y1="1152.9" x2="1017.3" y2="1161.4" stroke="#000" stroke-width="3"/>
<text transform="translate(609.39 1199.4) scale(1 1.03)" font-size="34.4">160</text>
<text transform="translate(709.09 1199.4) scale(1 1.03)" font-size="34.4">180</text>
<text transform="translate(801 1199.4) scale(1 1.03)" font-size="34.4">200</text>
<text transform="translate(897.4 1199.4) scale(1 1.03)" font-size="34.4">220</text>
<text transform="translate(988.1 1199.4) scale(1 1.03)" font-size="34.4">240</text>
<text transform="translate(765 1246.7) scale(1 1.03)" font-size="40.2">APD<tspan font-size="29" dy="11.3" dx="0.5">i</tspan><tspan dy="-11.3" dx="-1"> (ms)</tspan></text>
<text transform="translate(534.5 1007) rotate(-90) scale(1 1.03)" font-size="40.2">APD<tspan font-size="29" dy="11.3" dx="0.5">i+1</tspan><tspan dy="-11.3" dx="-1"> (ms)</tspan></text>
<polyline points="925.9,873.2 939.8,906.3 924.5,893.7 939.8,877.8" fill="none" stroke="#000" stroke-width="2" stroke-linejoin="round" stroke-linecap="round"/>
<line x1="919.2" y1="882.4" x2="925.9" y2="873.2" stroke="#000" stroke-width="2"/>
<line x1="925.9" y1="873.2" x2="916.6" y2="866.5" stroke="#000" stroke-width="2"/>
<line x1="916.6" y1="866.5" x2="911.95" y2="878.21" stroke="#000" stroke-width="2"/>
<line x1="911.95" y1="878.21" x2="909.3" y2="881.8" stroke="#000" stroke-width="2"/>
<line x1="909.3" y1="881.8" x2="908.6" y2="895.7" stroke="#000" stroke-width="2"/>
<line x1="908.6" y1="895.7" x2="905.45" y2="898.65" stroke="#000" stroke-width="2"/>
<line x1="905.45" y1="898.65" x2="907.3" y2="910.3" stroke="#000" stroke-width="2"/>
<line x1="907.3" y1="910.3" x2="899.6" y2="905" stroke="#000" stroke-width="2"/>
<line x1="899.6" y1="905" x2="889.73" y2="905" stroke="#000" stroke-width="2"/>
<line x1="889.73" y1="905" x2="880.8" y2="905" stroke="#000" stroke-width="2"/>
<line x1="880.8" y1="905" x2="884.8" y2="918.2" stroke="#000" stroke-width="2"/>
<line x1="884.8" y1="918.2" x2="870.2" y2="918.2" stroke="#000" stroke-width="2"/>
<line x1="883.4" y1="882.4" x2="888.7" y2="866.5" stroke="#000" stroke-width="2"/>
<line x1="888.7" y1="866.5" x2="880" y2="861.17" stroke="#000" stroke-width="2"/>
<line x1="880" y1="861.17" x2="892.7" y2="853.9" stroke="#000" stroke-width="2"/>
<line x1="892.7" y1="853.9" x2="912.45" y2="858" stroke="#000" stroke-width="2"/>
<line x1="912.45" y1="858" x2="910.6" y2="851.3" stroke="#000" stroke-width="2"/>
<line x1="910.6" y1="851.3" x2="917.9" y2="852.6" stroke="#000" stroke-width="2"/>
<line x1="917.9" y1="852.6" x2="918.71" y2="860.9" stroke="#000" stroke-width="2"/>
<line x1="899.75" y1="875.44" x2="892.7" y2="879.1" stroke="#000" stroke-width="2"/>
<line x1="892.7" y1="879.1" x2="874.1" y2="875.1" stroke="#000" stroke-width="2"/>
<line x1="918.77" y1="905" x2="919.86" y2="900.76" stroke="#000" stroke-width="2"/>
<line x1="919.86" y1="900.76" x2="923.2" y2="907.6" stroke="#000" stroke-width="2"/>
<line x1="923.2" y1="907.6" x2="924.5" y2="893.7" stroke="#000" stroke-width="2"/>
<line x1="850.3" y1="952.7" x2="853.6" y2="965.3" stroke="#0000ff" stroke-width="2.7"/>
<line x1="874.1" y1="957.4" x2="868" y2="959.94" stroke="#0000ff" stroke-width="2.7"/>
<line x1="843" y1="944" x2="834.4" y2="952.7" stroke="#0000ff" stroke-width="2.7"/>
<line x1="834.4" y1="952.7" x2="822" y2="959" stroke="#0000ff" stroke-width="2.7"/>
<line x1="822" y1="959" x2="829.7" y2="972.6" stroke="#0000ff" stroke-width="2.7"/>
<line x1="813.58" y1="980.95" x2="808" y2="978.6" stroke="#0000ff" stroke-width="2.7"/>
<line x1="808" y1="978.6" x2="809" y2="975.36" stroke="#0000ff" stroke-width="2.7"/>
<line x1="809" y1="975.36" x2="802" y2="979" stroke="#0000ff" stroke-width="2.7"/>
<line x1="802" y1="979" x2="810.5" y2="967.3" stroke="#0000ff" stroke-width="2.7"/>
<line x1="810.5" y1="967.3" x2="797.2" y2="975.3" stroke="#0000ff" stroke-width="2.7"/>
<line x1="815.8" y1="948.8" x2="813.2" y2="934.8" stroke="#0000ff" stroke-width="2.7"/>
<line x1="846.3" y1="924.9" x2="829" y2="926.9" stroke="#0000ff" stroke-width="2.7"/>
<line x1="829" y1="926.9" x2="828.53" y2="924.88" stroke="#0000ff" stroke-width="2.7"/>
<line x1="858.2" y1="918.3" x2="870" y2="929" stroke="#0000ff" stroke-width="2.7"/>
<line x1="870" y1="929" x2="884.8" y2="930.2" stroke="#0000ff" stroke-width="2.7"/>
<line x1="884.8" y1="930.2" x2="890" y2="935.5" stroke="#0000ff" stroke-width="2.7"/>
<line x1="720" y1="1085" x2="717.7" y2="1073.7" stroke="#ff0000" stroke-width="2"/>
<line x1="717.7" y1="1073.7" x2="729" y2="1079.7" stroke="#ff0000" stroke-width="2"/>
<line x1="729" y1="1079.7" x2="736.7" y2="1074.8" stroke="#ff0000" stroke-width="2"/>
<line x1="736.7" y1="1060" x2="736.33" y2="1057.42" stroke="#ff0000" stroke-width="2"/>
<line x1="742.7" y1="1042.5" x2="736.7" y2="1047" stroke="#ff0000" stroke-width="2"/>
<line x1="724.8" y1="1058.6" x2="713.9" y2="1060.7" stroke="#ff0000" stroke-width="2"/>
<line x1="713.9" y1="1060.7" x2="708.3" y2="1053.3" stroke="#ff0000" stroke-width="2"/>
<line x1="708.3" y1="1053.3" x2="707.66" y2="1052.21" stroke="#ff0000" stroke-width="2"/>
<line x1="707.66" y1="1052.21" x2="717.7" y2="1050.9" stroke="#ff0000" stroke-width="2"/>
<line x1="688.3" y1="1057.9" x2="691" y2="1062.1" stroke="#ff0000" stroke-width="2"/>
<line x1="699.93" y1="1073.75" x2="699.8" y2="1064.6" stroke="#ff0000" stroke-width="2"/>
<line x1="699.8" y1="1064.6" x2="697.4" y2="1076.9" stroke="#ff0000" stroke-width="2"/>
<line x1="697.4" y1="1076.9" x2="707.9" y2="1081.8" stroke="#ff0000" stroke-width="2"/>
<line x1="707.9" y1="1081.8" x2="705" y2="1070" stroke="#ff0000" stroke-width="2"/>
<line x1="689" y1="1081.8" x2="686.8" y2="1092.3" stroke="#ff0000" stroke-width="2"/>
<rect x="857.9" y="861" width="10" height="12.4" fill="none" stroke="#000" stroke-width="3"/>
<rect x="869.1" y="868.9" width="10" height="12.4" fill="none" stroke="#000" stroke-width="3"/>
<rect x="887.7" y="847.7" width="10" height="12.4" fill="none" stroke="#000" stroke-width="3"/>
<rect x="905.6" y="845.1" width="10" height="12.4" fill="none" stroke="#000" stroke-width="3"/>
<rect x="912.9" y="846.4" width="10" height="12.4" fill="none" stroke="#000" stroke-width="3"/>
<rect x="924.2" y="849" width="10" height="12.4" fill="none" stroke="#000" stroke-width="3"/>
<rect x="934.8" y="871.6" width="10" height="12.4" fill="none" stroke="#000" stroke-width="3"/>
<rect x="934.8" y="900.1" width="10" height="12.4" fill="none" stroke="#000" stroke-width="3"/>
<rect x="918.2" y="901.4" width="10" height="12.4" fill="none" stroke="#000" stroke-width="3"/>
<rect x="902.3" y="904.1" width="10" height="12.4" fill="none" stroke="#000" stroke-width="3"/>
<rect x="865.2" y="912" width="10" height="12.4" fill="none" stroke="#000" stroke-width="3"/>
<rect x="879.8" y="912" width="10" height="12.4" fill="none" stroke="#000" stroke-width="3"/>
<rect x="896.3" y="920" width="10" height="12.4" fill="none" stroke="#000" stroke-width="3"/>
<rect x="887.7" y="896.1" width="10" height="12.4" fill="none" stroke="#000" stroke-width="3"/>
<rect x="903.6" y="889.5" width="10" height="12.4" fill="none" stroke="#000" stroke-width="3"/>
<rect x="919.5" y="887.5" width="10" height="12.4" fill="none" stroke="#000" stroke-width="3"/>
<rect x="887.7" y="872.9" width="10" height="12.4" fill="none" stroke="#000" stroke-width="3"/>
<rect x="904.3" y="875.6" width="10" height="12.4" fill="none" stroke="#000" stroke-width="3"/>
<rect x="920.9" y="867" width="10" height="12.4" fill="none" stroke="#000" stroke-width="3"/>
<rect x="897" y="859" width="10" height="12.4" fill="none" stroke="#000" stroke-width="3"/>
<rect x="911.6" y="860.3" width="10" height="12.4" fill="none" stroke="#000" stroke-width="3"/>
<rect x="883.7" y="860.3" width="10" height="12.4" fill="none" stroke="#000" stroke-width="3"/>
<rect x="878.4" y="876.2" width="10" height="12.4" fill="none" stroke="#000" stroke-width="3"/>
<rect x="875.8" y="898.8" width="10" height="12.4" fill="none" stroke="#000" stroke-width="3"/>
<rect x="914.2" y="876.2" width="10" height="12.4" fill="none" stroke="#000" stroke-width="3"/>
<rect x="907.45" y="851.8" width="10" height="12.4" fill="none" stroke="#000" stroke-width="3"/>
<rect x="894.75" y="869.24" width="10" height="12.4" fill="none" stroke="#000" stroke-width="3"/>
<rect x="914.86" y="894.56" width="10" height="12.4" fill="none" stroke="#000" stroke-width="3"/>
<rect x="900.45" y="892.45" width="10" height="12.4" fill="none" stroke="#000" stroke-width="3"/>
<rect x="894.6" y="898.8" width="10" height="12.4" fill="none" stroke="#000" stroke-width="3"/>
<rect x="913.77" y="898.8" width="10" height="12.4" fill="none" stroke="#000" stroke-width="3"/>
<rect x="884.73" y="898.8" width="10" height="12.4" fill="none" stroke="#000" stroke-width="3"/>
<rect x="913.71" y="854.7" width="10" height="12.4" fill="none" stroke="#000" stroke-width="3"/>
<rect x="906.95" y="872.01" width="10" height="12.4" fill="none" stroke="#000" stroke-width="3"/>
<rect x="875" y="854.97" width="10" height="12.4" fill="none" stroke="#000" stroke-width="3"/>
<polygon points="885.2,945.4 898.8,945.4 892,959.6" fill="none" stroke="#0000ff" stroke-width="3.3" stroke-linejoin="round"/>
<polygon points="867.3,953.4 880.9,953.4 874.1,967.6" fill="none" stroke="#0000ff" stroke-width="3.3" stroke-linejoin="round"/>
<polygon points="846.8,961.3 860.4,961.3 853.6,975.5" fill="none" stroke="#0000ff" stroke-width="3.3" stroke-linejoin="round"/>
<polygon points="830.2,971.3 843.8,971.3 837,985.5" fill="none" stroke="#0000ff" stroke-width="3.3" stroke-linejoin="round"/>
<polygon points="822.9,968.6 836.5,968.6 829.7,982.8" fill="none" stroke="#0000ff" stroke-width="3.3" stroke-linejoin="round"/>
<polygon points="801,980.6 814.6,980.6 807.8,994.8" fill="none" stroke="#0000ff" stroke-width="3.3" stroke-linejoin="round"/>
<polygon points="790.4,971.3 804,971.3 797.2,985.5" fill="none" stroke="#0000ff" stroke-width="3.3" stroke-linejoin="round"/>
<polygon points="803.7,963.3 817.3,963.3 810.5,977.5" fill="none" stroke="#0000ff" stroke-width="3.3" stroke-linejoin="round"/>
<polygon points="809,944.8 822.6,944.8 815.8,959" fill="none" stroke="#0000ff" stroke-width="3.3" stroke-linejoin="round"/>
<polygon points="806.4,930.8 820,930.8 813.2,945" fill="none" stroke="#0000ff" stroke-width="3.3" stroke-linejoin="round"/>
<polygon points="822.2,922.9 835.8,922.9 829,937.1" fill="none" stroke="#0000ff" stroke-width="3.3" stroke-linejoin="round"/>
<polygon points="827.6,948.7 841.2,948.7 834.4,962.9" fill="none" stroke="#0000ff" stroke-width="3.3" stroke-linejoin="round"/>
<polygon points="843.5,948.7 857.1,948.7 850.3,962.9" fill="none" stroke="#0000ff" stroke-width="3.3" stroke-linejoin="round"/>
<polygon points="847.5,932.8 861.1,932.8 854.3,947" fill="none" stroke="#0000ff" stroke-width="3.3" stroke-linejoin="round"/>
<polygon points="839.5,920.9 853.1,920.9 846.3,935.1" fill="none" stroke="#0000ff" stroke-width="3.3" stroke-linejoin="round"/>
<polygon points="851.4,914.3 865,914.3 858.2,928.5" fill="none" stroke="#0000ff" stroke-width="3.3" stroke-linejoin="round"/>
<polygon points="844.8,893.7 858.4,893.7 851.6,907.9" fill="none" stroke="#0000ff" stroke-width="3.3" stroke-linejoin="round"/>
<polygon points="858.7,891.7 872.3,891.7 865.5,905.9" fill="none" stroke="#0000ff" stroke-width="3.3" stroke-linejoin="round"/>
<polygon points="878,926.2 891.6,926.2 884.8,940.4" fill="none" stroke="#0000ff" stroke-width="3.3" stroke-linejoin="round"/>
<polygon points="883.2,931.5 896.8,931.5 890,945.7" fill="none" stroke="#0000ff" stroke-width="3.3" stroke-linejoin="round"/>
<polygon points="836.2,940 849.8,940 843,954.2" fill="none" stroke="#0000ff" stroke-width="3.3" stroke-linejoin="round"/>
<polygon points="815.2,955 828.8,955 822,969.2" fill="none" stroke="#0000ff" stroke-width="3.3" stroke-linejoin="round"/>
<polygon points="795.2,975 808.8,975 802,989.2" fill="none" stroke="#0000ff" stroke-width="3.3" stroke-linejoin="round"/>
<polygon points="831.2,905 844.8,905 838,919.2" fill="none" stroke="#0000ff" stroke-width="3.3" stroke-linejoin="round"/>
<polygon points="863.2,925 876.8,925 870,939.2" fill="none" stroke="#0000ff" stroke-width="3.3" stroke-linejoin="round"/>
<polygon points="801.2,974.6 814.8,974.6 808,988.8" fill="none" stroke="#0000ff" stroke-width="3.3" stroke-linejoin="round"/>
<polygon points="806.78,976.95 820.38,976.95 813.58,991.15" fill="none" stroke="#0000ff" stroke-width="3.3" stroke-linejoin="round"/>
<polygon points="861.2,955.94 874.8,955.94 868,970.14" fill="none" stroke="#0000ff" stroke-width="3.3" stroke-linejoin="round"/>
<polygon points="802.2,971.36 815.8,971.36 809,985.56" fill="none" stroke="#0000ff" stroke-width="3.3" stroke-linejoin="round"/>
<polygon points="821.73,920.88 835.33,920.88 828.53,935.08" fill="none" stroke="#0000ff" stroke-width="3.3" stroke-linejoin="round"/>
<polygon points="698.4,1038.2 705.6,1047 698.4,1055.8 691.2,1047" fill="none" stroke="#ff0000" stroke-width="3.2" stroke-linejoin="round"/>
<polygon points="688.3,1049.1 695.5,1057.9 688.3,1066.7 681.1,1057.9" fill="none" stroke="#ff0000" stroke-width="3.2" stroke-linejoin="round"/>
<polygon points="692.5,1034.4 699.7,1043.2 692.5,1052 685.3,1043.2" fill="none" stroke="#ff0000" stroke-width="3.2" stroke-linejoin="round"/>
<polygon points="726.5,1032.3 733.7,1041.1 726.5,1049.9 719.3,1041.1" fill="none" stroke="#ff0000" stroke-width="3.2" stroke-linejoin="round"/>
<polygon points="736.7,1038.2 743.9,1047 736.7,1055.8 729.5,1047" fill="none" stroke="#ff0000" stroke-width="3.2" stroke-linejoin="round"/>
<polygon points="742.7,1033.7 749.9,1042.5 742.7,1051.3 735.5,1042.5" fill="none" stroke="#ff0000" stroke-width="3.2" stroke-linejoin="round"/>
<polygon points="717.7,1042.1 724.9,1050.9 717.7,1059.7 710.5,1050.9" fill="none" stroke="#ff0000" stroke-width="3.2" stroke-linejoin="round"/>
<polygon points="708.3,1044.5 715.5,1053.3 708.3,1062.1 701.1,1053.3" fill="none" stroke="#ff0000" stroke-width="3.2" stroke-linejoin="round"/>
<polygon points="699.8,1055.8 707,1064.6 699.8,1073.4 692.6,1064.6" fill="none" stroke="#ff0000" stroke-width="3.2" stroke-linejoin="round"/>
<polygon points="713.9,1051.9 721.1,1060.7 713.9,1069.5 706.7,1060.7" fill="none" stroke="#ff0000" stroke-width="3.2" stroke-linejoin="round"/>
<polygon points="724.8,1049.8 732,1058.6 724.8,1067.4 717.6,1058.6" fill="none" stroke="#ff0000" stroke-width="3.2" stroke-linejoin="round"/>
<polygon points="736.7,1051.2 743.9,1060 736.7,1068.8 729.5,1060" fill="none" stroke="#ff0000" stroke-width="3.2" stroke-linejoin="round"/>
<polygon points="717.7,1064.9 724.9,1073.7 717.7,1082.5 710.5,1073.7" fill="none" stroke="#ff0000" stroke-width="3.2" stroke-linejoin="round"/>
<polygon points="736.7,1066 743.9,1074.8 736.7,1083.6 729.5,1074.8" fill="none" stroke="#ff0000" stroke-width="3.2" stroke-linejoin="round"/>
<polygon points="707.9,1073 715.1,1081.8 707.9,1090.6 700.7,1081.8" fill="none" stroke="#ff0000" stroke-width="3.2" stroke-linejoin="round"/>
<polygon points="689,1073 696.2,1081.8 689,1090.6 681.8,1081.8" fill="none" stroke="#ff0000" stroke-width="3.2" stroke-linejoin="round"/>
<polygon points="686.8,1083.5 694,1092.3 686.8,1101.1 679.6,1092.3" fill="none" stroke="#ff0000" stroke-width="3.2" stroke-linejoin="round"/>
<polygon points="698.8,1085.6 706,1094.4 698.8,1103.2 691.6,1094.4" fill="none" stroke="#ff0000" stroke-width="3.2" stroke-linejoin="round"/>
<polygon points="716.3,1085.6 723.5,1094.4 716.3,1103.2 709.1,1094.4" fill="none" stroke="#ff0000" stroke-width="3.2" stroke-linejoin="round"/>
<polygon points="732.8,1082.8 740,1091.6 732.8,1100.4 725.6,1091.6" fill="none" stroke="#ff0000" stroke-width="3.2" stroke-linejoin="round"/>
<polygon points="729,1070.9 736.2,1079.7 729,1088.5 721.8,1079.7" fill="none" stroke="#ff0000" stroke-width="3.2" stroke-linejoin="round"/>
<polygon points="697.4,1068.1 704.6,1076.9 697.4,1085.7 690.2,1076.9" fill="none" stroke="#ff0000" stroke-width="3.2" stroke-linejoin="round"/>
<polygon points="691,1053.3 698.2,1062.1 691,1070.9 683.8,1062.1" fill="none" stroke="#ff0000" stroke-width="3.2" stroke-linejoin="round"/>
<polygon points="720,1076.2 727.2,1085 720,1093.8 712.8,1085" fill="none" stroke="#ff0000" stroke-width="3.2" stroke-linejoin="round"/>
<polygon points="705,1061.2 712.2,1070 705,1078.8 697.8,1070" fill="none" stroke="#ff0000" stroke-width="3.2" stroke-linejoin="round"/>
<polygon points="736.33,1048.62 743.53,1057.42 736.33,1066.22 729.13,1057.42" fill="none" stroke="#ff0000" stroke-width="3.2" stroke-linejoin="round"/>
<polygon points="707.66,1043.41 714.86,1052.21 707.66,1061.01 700.46,1052.21" fill="none" stroke="#ff0000" stroke-width="3.2" stroke-linejoin="round"/>
<polygon points="699.93,1064.95 707.13,1073.75 699.93,1082.55 692.73,1073.75" fill="none" stroke="#ff0000" stroke-width="3.2" stroke-linejoin="round"/>
<text transform="translate(734.29 845.9) scale(1 1.03)" font-size="40.2">Control</text>
<text transform="translate(666 905.8) scale(1 1.03)" font-size="40.2" fill="#0000ff">Washout</text>
<text transform="translate(743.88 1115.7) scale(1 1.03)" font-size="40.2" fill="#ff0000">Mexiletine</text>
</g>
<g>
<line x1="1167.5" y1="107.7" x2="1167.5" y2="487.1" stroke="#000" stroke-width="3"/>
<line x1="1159" y1="109.2" x2="1167.5" y2="109.2" stroke="#000" stroke-width="3"/>
<line x1="1161" y1="171.7" x2="1167.5" y2="171.7" stroke="#000" stroke-width="3"/>
<line x1="1159" y1="234.1" x2="1167.5" y2="234.1" stroke="#000" stroke-width="3"/>
<line x1="1161" y1="296.6" x2="1167.5" y2="296.6" stroke="#000" stroke-width="3"/>
<line x1="1159" y1="360.7" x2="1167.5" y2="360.7" stroke="#000" stroke-width="3"/>
<line x1="1161" y1="423.1" x2="1167.5" y2="423.1" stroke="#000" stroke-width="3"/>
<line x1="1159" y1="485.6" x2="1167.5" y2="485.6" stroke="#000" stroke-width="3"/>
<text transform="translate(1092.53 121.5) scale(1 1.03)" font-size="34.4">250</text>
<text transform="translate(1092.53 246.6) scale(1 1.03)" font-size="34.4">200</text>
<text transform="translate(1092.53 373.2) scale(1 1.03)" font-size="34.4">150</text>
<text transform="translate(1092.53 498.2) scale(1 1.03)" font-size="34.4">100</text>
<text transform="translate(1072.8 373) rotate(-90) scale(1 1.03)" font-size="34.2">APD<tspan font-size="26.5" dy="10.2">90</tspan><tspan dy="-10.2" dx="2.5"> (ms)</tspan></text>
<text transform="translate(1209.3 540.21) rotate(-90) scale(1 1.03)" font-size="40.2">Control</text>
<text transform="translate(1327.5 551.61) rotate(-90) scale(1 1.03)" font-size="40.2" fill="#ff0000">GS967</text>
<text transform="translate(1449.2 542.4) rotate(-90) scale(1 1.03)" font-size="40.2" fill="#0000ff">Washout</text>
<polyline points="1195,128.4 1195.6,103.2 1329.8,103.2 1330.4,128.4" fill="none" stroke="#000" stroke-width="3"/>
<text x="1264.7" y="118.4" font-size="76" font-weight="bold" text-anchor="middle" transform="rotate(180 1264.7 78.8)">*</text>
<text transform="translate(1318.74 45.3) scale(1 1.03)" font-size="34.4">(n = 8)</text>
<line x1="1198.2" y1="194.3" x2="1198.2" y2="237.5" stroke="#000" stroke-width="3.2"/>
<line x1="1191.2" y1="194.3" x2="1205.2" y2="194.3" stroke="#000" stroke-width="3.2"/>
<line x1="1191.2" y1="237.5" x2="1205.2" y2="237.5" stroke="#000" stroke-width="3.2"/>
<circle cx="1198.2" cy="216" r="15.2" fill="#000"/>
<circle cx="1268" cy="148" r="9.2" fill="#000"/>
<circle cx="1235.2" cy="167.4" r="9.2" fill="#000"/>
<circle cx="1252" cy="177.5" r="9.2" fill="#000"/>
<circle cx="1235.2" cy="194.4" r="9.2" fill="#000"/>
<circle cx="1252" cy="206" r="9.2" fill="#000"/>
<circle cx="1268" cy="211" r="9.2" fill="#000"/>
<circle cx="1259.9" cy="291.5" r="9.2" fill="#000"/>
<circle cx="1243.5" cy="332.3" r="9.2" fill="#000"/>
<line x1="1315.8" y1="266.3" x2="1315.8" y2="311.6" stroke="#ff0000" stroke-width="3.2"/>
<line x1="1308.8" y1="266.3" x2="1322.8" y2="266.3" stroke="#ff0000" stroke-width="3.2"/>
<line x1="1308.8" y1="311.6" x2="1322.8" y2="311.6" stroke="#ff0000" stroke-width="3.2"/>
<circle cx="1315.8" cy="289" r="15.2" fill="#ff0000"/>
<circle cx="1356" cy="186.3" r="9.2" fill="#ff0000"/>
<circle cx="1369.4" cy="202.7" r="9.2" fill="#ff0000"/>
<circle cx="1362.9" cy="274.4" r="9.2" fill="#ff0000"/>
<circle cx="1362.9" cy="300.3" r="9.2" fill="#ff0000"/>
<circle cx="1369.4" cy="329.2" r="9.2" fill="#ff0000"/>
<circle cx="1344.2" cy="331" r="9.2" fill="#ff0000"/>
<circle cx="1356" cy="338.6" r="9.2" fill="#ff0000"/>
<circle cx="1381.3" cy="348.6" r="9.2" fill="#ff0000"/>
<line x1="1434.9" y1="220.3" x2="1434.9" y2="267.4" stroke="#0000ff" stroke-width="3.2"/>
<line x1="1427.9" y1="220.3" x2="1441.9" y2="220.3" stroke="#0000ff" stroke-width="3.2"/>
<line x1="1427.9" y1="267.4" x2="1441.9" y2="267.4" stroke="#0000ff" stroke-width="3.2"/>
<circle cx="1434.9" cy="244.2" r="15.2" fill="#0000ff"/>
<circle cx="1488.3" cy="174.5" r="9.2" fill="#0000ff"/>
<circle cx="1505.1" cy="174.5" r="9.2" fill="#0000ff"/>
<circle cx="1471.9" cy="207.2" r="9.2" fill="#0000ff"/>
<circle cx="1480" cy="214.5" r="9.2" fill="#0000ff"/>
<circle cx="1496.6" cy="228.6" r="9.2" fill="#0000ff"/>
<circle cx="1480" cy="289" r="9.2" fill="#0000ff"/>
<circle cx="1496.6" cy="307.8" r="9.2" fill="#0000ff"/>
<circle cx="1488.3" cy="359" r="9.2" fill="#0000ff"/>
</g>
<g>
<line x1="1624.2" y1="106.4" x2="1624.2" y2="486.8" stroke="#000" stroke-width="3"/>
<line x1="1615.2" y1="107.9" x2="1624.2" y2="107.9" stroke="#000" stroke-width="3"/>
<line x1="1615.2" y1="202.5" x2="1624.2" y2="202.5" stroke="#000" stroke-width="3"/>
<line x1="1615.2" y1="296.1" x2="1624.2" y2="296.1" stroke="#000" stroke-width="3"/>
<line x1="1615.2" y1="391.1" x2="1624.2" y2="391.1" stroke="#000" stroke-width="3"/>
<line x1="1615.2" y1="485.3" x2="1624.2" y2="485.3" stroke="#000" stroke-width="3"/>
<text transform="translate(1587.27 120.5) scale(1 1.03)" font-size="34.4">4</text>
<text transform="translate(1587.96 215.1) scale(1 1.03)" font-size="34.4">3</text>
<text transform="translate(1587.96 308.7) scale(1 1.03)" font-size="34.4">2</text>
<text transform="translate(1587.96 403.7) scale(1 1.03)" font-size="34.4">1</text>
<text transform="translate(1587.61 497.9) scale(1 1.03)" font-size="34.4">0</text>
<text transform="translate(1576.5 374.22) rotate(-90) scale(1 1.03)" font-size="34.4">SV (ms)</text>
<text transform="translate(1668 539.01) rotate(-90) scale(1 1.03)" font-size="40.2">Control</text>
<text transform="translate(1790 552.31) rotate(-90) scale(1 1.03)" font-size="40.2" fill="#ff0000">GS967</text>
<text transform="translate(1918.7 541.4) rotate(-90) scale(1 1.03)" font-size="40.2" fill="#0000ff">Washout</text>
<polyline points="1656.7,128.6 1657.3,103.8 1791,103.8 1791.6,128.6" fill="none" stroke="#000" stroke-width="3"/>
<text x="1726.3" y="118.8" font-size="76" font-weight="bold" text-anchor="middle" transform="rotate(180 1726.3 79.2)">*</text>
<text transform="translate(1755.24 44.8) scale(1 1.03)" font-size="34.4">(n = 8)</text>
<line x1="1657.3" y1="226.9" x2="1657.3" y2="267.7" stroke="#000" stroke-width="3.2"/>
<line x1="1650.3" y1="226.9" x2="1664.3" y2="226.9" stroke="#000" stroke-width="3.2"/>
<line x1="1650.3" y1="267.7" x2="1664.3" y2="267.7" stroke="#000" stroke-width="3.2"/>
<circle cx="1657.3" cy="248" r="15.2" fill="#000"/>
<circle cx="1711.4" cy="183" r="9.2" fill="#000"/>
<circle cx="1694.5" cy="229.3" r="9.2" fill="#000"/>
<circle cx="1710.4" cy="229.3" r="9.2" fill="#000"/>
<circle cx="1727.6" cy="226.6" r="9.2" fill="#000"/>
<circle cx="1702.4" cy="239.9" r="9.2" fill="#000"/>
<circle cx="1718.9" cy="263.8" r="9.2" fill="#000"/>
<circle cx="1718.9" cy="299.6" r="9.2" fill="#000"/>
<circle cx="1702.4" cy="312.9" r="9.2" fill="#000"/>
<line x1="1775.9" y1="343.4" x2="1775.9" y2="383.2" stroke="#ff0000" stroke-width="3.2"/>
<line x1="1768.9" y1="343.4" x2="1782.9" y2="343.4" stroke="#ff0000" stroke-width="3.2"/>
<line x1="1768.9" y1="383.2" x2="1782.9" y2="383.2" stroke="#ff0000" stroke-width="3.2"/>
<circle cx="1775.9" cy="364" r="15.2" fill="#ff0000"/>
<circle cx="1829" cy="294.3" r="9.2" fill="#ff0000"/>
<circle cx="1829" cy="326.1" r="9.2" fill="#ff0000"/>
<circle cx="1808.6" cy="352.7" r="9.2" fill="#ff0000"/>
<circle cx="1818.4" cy="373.9" r="9.2" fill="#ff0000"/>
<circle cx="1849.7" cy="373.9" r="9.2" fill="#ff0000"/>
<circle cx="1829" cy="384.5" r="9.2" fill="#ff0000"/>
<circle cx="1839.1" cy="393.8" r="9.2" fill="#ff0000"/>
<circle cx="1829" cy="412.3" r="9.2" fill="#ff0000"/>
<line x1="1906.7" y1="251.8" x2="1906.7" y2="289.5" stroke="#0000ff" stroke-width="3.2"/>
<line x1="1899.7" y1="251.8" x2="1913.7" y2="251.8" stroke="#0000ff" stroke-width="3.2"/>
<line x1="1899.7" y1="289.5" x2="1913.7" y2="289.5" stroke="#0000ff" stroke-width="3.2"/>
<circle cx="1906.7" cy="271.7" r="15.2" fill="#0000ff"/>
<circle cx="1959.6" cy="219.5" r="9.2" fill="#0000ff"/>
<circle cx="1943.9" cy="230.6" r="9.2" fill="#0000ff"/>
<circle cx="1959.8" cy="239.9" r="9.2" fill="#0000ff"/>
<circle cx="1976.5" cy="239.9" r="9.2" fill="#0000ff"/>
<circle cx="1967.7" cy="278.4" r="9.2" fill="#0000ff"/>
<circle cx="1951.8" cy="299.1" r="9.2" fill="#0000ff"/>
<circle cx="1967.7" cy="326.9" r="9.2" fill="#0000ff"/>
<circle cx="1951.8" cy="338.6" r="9.2" fill="#0000ff"/>
</g>
<g>
<line x1="1171.2" y1="775.9" x2="1171.2" y2="1165" stroke="#000" stroke-width="3.6"/>
<line x1="1163.5" y1="774.5" x2="1167.8" y2="774.5" stroke="#000" stroke-width="3.3"/>
<line x1="1163.5" y1="853" x2="1167.8" y2="853" stroke="#000" stroke-width="3.3"/>
<line x1="1163.5" y1="931.9" x2="1167.8" y2="931.9" stroke="#000" stroke-width="3.3"/>
<line x1="1163.5" y1="1007.9" x2="1167.8" y2="1007.9" stroke="#000" stroke-width="3.3"/>
<line x1="1163.5" y1="1085.4" x2="1167.8" y2="1085.4" stroke="#000" stroke-width="3.3"/>
<line x1="1163.5" y1="1162.2" x2="1167.8" y2="1162.2" stroke="#000" stroke-width="3.3"/>
<text transform="translate(1096.23 786.3) scale(1 1.03)" font-size="34.4">350</text>
<text transform="translate(1096.23 864.8) scale(1 1.03)" font-size="34.4">300</text>
<text transform="translate(1096.23 943.7) scale(1 1.03)" font-size="34.4">250</text>
<text transform="translate(1096.23 1019.7) scale(1 1.03)" font-size="34.4">200</text>
<text transform="translate(1096.23 1097.2) scale(1 1.03)" font-size="34.4">150</text>
<text transform="translate(1096.23 1174) scale(1 1.03)" font-size="34.4">100</text>
<text transform="translate(1070.8 1045) rotate(-90) scale(1 1.03)" font-size="34.2">APD<tspan font-size="26" dy="9.6">90</tspan><tspan dy="-9.6" dx="2.5"> (ms)</tspan></text>
<text transform="translate(1210.3 1267.11) rotate(-90) scale(1 1.03)" font-size="40.2">Control</text>
<text transform="translate(1326.5 1280.22) rotate(-90) scale(1 1.03)" font-size="40.2" fill="#ff0000">Mexiletine</text>
<text transform="translate(1448.7 1269.9) rotate(-90) scale(1 1.03)" font-size="40.2" fill="#0000ff">Washout</text>
<polyline points="1211.4,750 1212,725.6 1345.4,725.6 1346,750" fill="none" stroke="#000" stroke-width="3"/>
<text x="1281.3" y="740.8" font-size="76" font-weight="bold" text-anchor="middle" transform="rotate(180 1281.3 701.2)">*</text>
<text transform="translate(1309.94 665.8) scale(1 1.03)" font-size="34.4">(n = 8)</text>
<line x1="1197.5" y1="943.8" x2="1197.5" y2="1020.7" stroke="#000" stroke-width="3.2"/>
<line x1="1190.5" y1="943.8" x2="1204.5" y2="943.8" stroke="#000" stroke-width="3.2"/>
<line x1="1190.5" y1="1020.7" x2="1204.5" y2="1020.7" stroke="#000" stroke-width="3.2"/>
<circle cx="1197.5" cy="982.8" r="15" fill="#000"/>
<circle cx="1243.7" cy="824.2" r="8.7" fill="#000"/>
<circle cx="1238.6" cy="970" r="8.7" fill="#000"/>
<circle cx="1248.1" cy="981" r="8.7" fill="#000"/>
<circle cx="1244" cy="995.4" r="8.7" fill="#000"/>
<circle cx="1248.1" cy="1008.8" r="8.7" fill="#000"/>
<circle cx="1238.6" cy="1025.2" r="8.7" fill="#000"/>
<circle cx="1232" cy="1034.7" r="8.7" fill="#000"/>
<circle cx="1254.1" cy="1039.2" r="8.7" fill="#000"/>
<line x1="1317.6" y1="1011.8" x2="1317.6" y2="1083.3" stroke="#ff0000" stroke-width="3.2"/>
<line x1="1310.6" y1="1011.8" x2="1324.6" y2="1011.8" stroke="#ff0000" stroke-width="3.2"/>
<line x1="1310.6" y1="1083.3" x2="1324.6" y2="1083.3" stroke="#ff0000" stroke-width="3.2"/>
<circle cx="1317.6" cy="1048.1" r="15" fill="#ff0000"/>
<circle cx="1362.9" cy="904.5" r="8.7" fill="#ff0000"/>
<circle cx="1359.9" cy="1019.8" r="8.7" fill="#ff0000"/>
<circle cx="1352.7" cy="1032.6" r="8.7" fill="#ff0000"/>
<circle cx="1366.7" cy="1057.9" r="8.7" fill="#ff0000"/>
<circle cx="1372.7" cy="1059.4" r="8.7" fill="#ff0000"/>
<circle cx="1352.7" cy="1072.2" r="8.7" fill="#ff0000"/>
<circle cx="1366.7" cy="1093.1" r="8.7" fill="#ff0000"/>
<circle cx="1359.9" cy="1101.2" r="8.7" fill="#ff0000"/>
<circle cx="1373.3" cy="1104.1" r="8.7" fill="#ff0000"/>
<line x1="1435.3" y1="966.2" x2="1435.3" y2="1044.5" stroke="#0000ff" stroke-width="3.2"/>
<line x1="1428.3" y1="966.2" x2="1442.3" y2="966.2" stroke="#0000ff" stroke-width="3.2"/>
<line x1="1428.3" y1="1044.5" x2="1442.3" y2="1044.5" stroke="#0000ff" stroke-width="3.2"/>
<circle cx="1435.3" cy="1005.8" r="15" fill="#0000ff"/>
<circle cx="1487.8" cy="828" r="8.7" fill="#0000ff"/>
<circle cx="1485.9" cy="995.4" r="8.7" fill="#0000ff"/>
<circle cx="1488.3" cy="992.4" r="8.7" fill="#0000ff"/>
<circle cx="1500" cy="1020.7" r="8.7" fill="#0000ff"/>
<circle cx="1477" cy="1034.7" r="8.7" fill="#0000ff"/>
<circle cx="1494.9" cy="1037.1" r="8.7" fill="#0000ff"/>
<circle cx="1487.4" cy="1052.6" r="8.7" fill="#0000ff"/>
<circle cx="1480" cy="1060.9" r="8.7" fill="#0000ff"/>
</g>
<g>
<line x1="1623.7" y1="770.1" x2="1623.7" y2="1156" stroke="#000" stroke-width="3.4"/>
<line x1="1617.2" y1="769.4" x2="1623.7" y2="769.4" stroke="#000" stroke-width="3"/>
<line x1="1618.7" y1="867.2" x2="1623.7" y2="867.2" stroke="#000" stroke-width="3"/>
<line x1="1618.7" y1="963.8" x2="1623.7" y2="963.8" stroke="#000" stroke-width="3"/>
<line x1="1618.7" y1="1059.7" x2="1623.7" y2="1059.7" stroke="#000" stroke-width="3"/>
<line x1="1618.7" y1="1154.4" x2="1623.7" y2="1154.4" stroke="#000" stroke-width="3"/>
<text transform="translate(1588.77 780.5) scale(1 1.03)" font-size="34.4">4</text>
<text transform="translate(1589.46 878.3) scale(1 1.03)" font-size="34.4">3</text>
<text transform="translate(1589.46 974.9) scale(1 1.03)" font-size="34.4">2</text>
<text transform="translate(1589.46 1070.8) scale(1 1.03)" font-size="34.4">1</text>
<text transform="translate(1589.11 1165.5) scale(1 1.03)" font-size="34.4">0</text>
<text transform="translate(1579.5 1045.12) rotate(-90) scale(1 1.03)" font-size="34.4">SV (ms)</text>
<text transform="translate(1672.7 1269.31) rotate(-90) scale(1 1.03)" font-size="40.2">Control</text>
<text transform="translate(1788.7 1281.52) rotate(-90) scale(1 1.03)" font-size="40.2" fill="#ff0000">Mexiletine</text>
<text transform="translate(1920.4 1270.8) rotate(-90) scale(1 1.03)" font-size="40.2" fill="#0000ff">Washout</text>
<polyline points="1648.4,750 1649,725.1 1782.4,725.1 1783,750" fill="none" stroke="#000" stroke-width="3"/>
<text x="1717.5" y="740.8" font-size="76" font-weight="bold" text-anchor="middle" transform="rotate(180 1717.5 701.2)">*</text>
<text transform="translate(1776.44 665.1) scale(1 1.03)" font-size="34.4">(n = 8)</text>
<line x1="1654.5" y1="903.5" x2="1654.5" y2="987.3" stroke="#000" stroke-width="3.2"/>
<line x1="1647.5" y1="903.5" x2="1661.5" y2="903.5" stroke="#000" stroke-width="3.2"/>
<line x1="1647.5" y1="987.3" x2="1661.5" y2="987.3" stroke="#000" stroke-width="3.2"/>
<circle cx="1654.5" cy="946.5" r="15" fill="#000"/>
<circle cx="1709" cy="776.6" r="10" fill="#000"/>
<circle cx="1708.8" cy="897.2" r="10" fill="#000"/>
<circle cx="1694.6" cy="934.9" r="10" fill="#000"/>
<circle cx="1709.4" cy="931.7" r="10" fill="#000"/>
<circle cx="1721.9" cy="932.7" r="10" fill="#000"/>
<circle cx="1708.8" cy="986" r="10" fill="#000"/>
<circle cx="1701.5" cy="1056.2" r="10" fill="#000"/>
<circle cx="1715.7" cy="1061.9" r="10" fill="#000"/>
<line x1="1774.6" y1="964" x2="1774.6" y2="1046.2" stroke="#ff0000" stroke-width="3.2"/>
<line x1="1767.6" y1="964" x2="1781.6" y2="964" stroke="#ff0000" stroke-width="3.2"/>
<line x1="1767.6" y1="1046.2" x2="1781.6" y2="1046.2" stroke="#ff0000" stroke-width="3.2"/>
<circle cx="1774.6" cy="1005.4" r="15" fill="#ff0000"/>
<circle cx="1826.9" cy="819.6" r="10" fill="#ff0000"/>
<circle cx="1826.4" cy="959.3" r="10" fill="#ff0000"/>
<circle cx="1812.9" cy="1016.4" r="10" fill="#ff0000"/>
<circle cx="1827.3" cy="1011.1" r="10" fill="#ff0000"/>
<circle cx="1841.1" cy="1035.2" r="10" fill="#ff0000"/>
<circle cx="1812.9" cy="1065" r="10" fill="#ff0000"/>
<circle cx="1841.1" cy="1061.3" r="10" fill="#ff0000"/>
<circle cx="1826.4" cy="1087" r="10" fill="#ff0000"/>
<line x1="1905.4" y1="903.5" x2="1905.4" y2="980.4" stroke="#0000ff" stroke-width="3.2"/>
<line x1="1898.4" y1="903.5" x2="1912.4" y2="903.5" stroke="#0000ff" stroke-width="3.2"/>
<line x1="1898.4" y1="980.4" x2="1912.4" y2="980.4" stroke="#0000ff" stroke-width="3.2"/>
<circle cx="1905" cy="943" r="13.8" fill="#3434c8" stroke="#0000ff" stroke-width="3.3"/>
<circle cx="1956.2" cy="770.1" r="10" fill="#0000ff"/>
<circle cx="1951.2" cy="917" r="10" fill="#0000ff"/>
<circle cx="1961.2" cy="938.6" r="10" fill="#0000ff"/>
<circle cx="1940.8" cy="953.7" r="10" fill="#0000ff"/>
<circle cx="1951.8" cy="956.8" r="10" fill="#0000ff"/>
<circle cx="1961.2" cy="986.6" r="10" fill="#0000ff"/>
<circle cx="1971.5" cy="997.6" r="10" fill="#0000ff"/>
<circle cx="1955.6" cy="1030.5" r="10" fill="#0000ff"/>
</g>
</svg>
</body></html>
